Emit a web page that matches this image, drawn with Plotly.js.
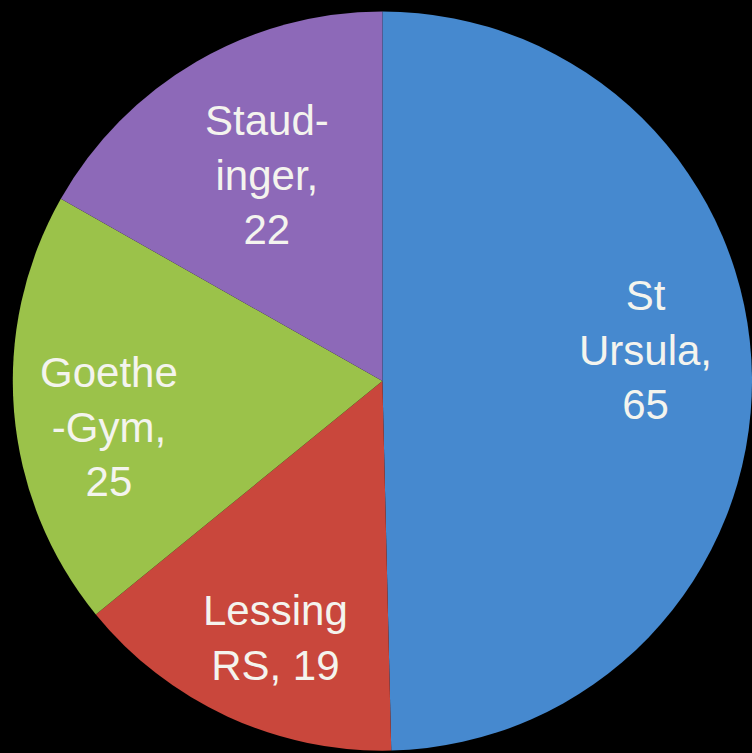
<!DOCTYPE html>
<html>
<head>
<meta charset="utf-8">
<script src="https://cdn.plot.ly/plotly-3.0.1.min.js"></script>
<style>html,body{margin:0;padding:0;background:#000;}#chart{width:752px;height:753px;}</style>
</head>
<body>
<div id="chart"></div>
<script>
// Data
const labels = ["St Ursula", "Lessing RS", "Goethe-Gym", "Staudinger"];
const values = [65, 19, 25, 22];
const labelText = ["St<br>Ursula,<br>", "Lessing<br>RS, ", "Goethe<br>-Gym,<br>", "Staud-<br>inger,<br>"];

// Style
const colors = ["#4689CF", "#C9473C", "#9BC24A", "#8D69B8"];
const labelShift = [[-3, 28], [4, -15], [-8, -24], [19, -24]];
const W = 752, H = 753;
const dom = {x: [0.017, 1.0], y: [0.003, 0.985]};
const labelRadius = 0.72;

// Label positions computed from slice mid-angles
const total = values.reduce((a, b) => a + b, 0);
const domW = (dom.x[1] - dom.x[0]) * W, domH = (dom.y[1] - dom.y[0]) * H;
const R = Math.min(domW, domH) / 2;
const cx = (dom.x[0] + dom.x[1]) / 2, cy = (dom.y[0] + dom.y[1]) / 2;
let cum = 0;
const annotations = values.map((v, i) => {
  const mid = (cum + v / 2) / total * 2 * Math.PI;
  cum += v;
  return {
    xref: "paper", yref: "paper",
    x: cx + labelRadius * R * Math.sin(mid) / W,
    y: cy + labelRadius * R * Math.cos(mid) / H,
    xanchor: "center", yanchor: "middle", align: "center",
    xshift: labelShift[i][0], yshift: labelShift[i][1],
    showarrow: false,
    text: labelText[i] + values[i],
    font: {family: "Liberation Sans, Arial, sans-serif", size: 42, color: "#F4F4EE"}
  };
});

Plotly.newPlot("chart", [{
  type: "pie",
  labels: labels,
  values: values,
  sort: false,
  direction: "clockwise",
  rotation: 0,
  textinfo: "none",
  marker: {colors: colors, line: {width: 0}},
  hoverinfo: "none",
  domain: dom
}], {
  width: W, height: H,
  margin: {l: 0, r: 0, t: 0, b: 0},
  paper_bgcolor: "#000000",
  plot_bgcolor: "#000000",
  showlegend: false,
  annotations: annotations
}, {displayModeBar: false, staticPlot: true});
</script>
</body>
</html>
